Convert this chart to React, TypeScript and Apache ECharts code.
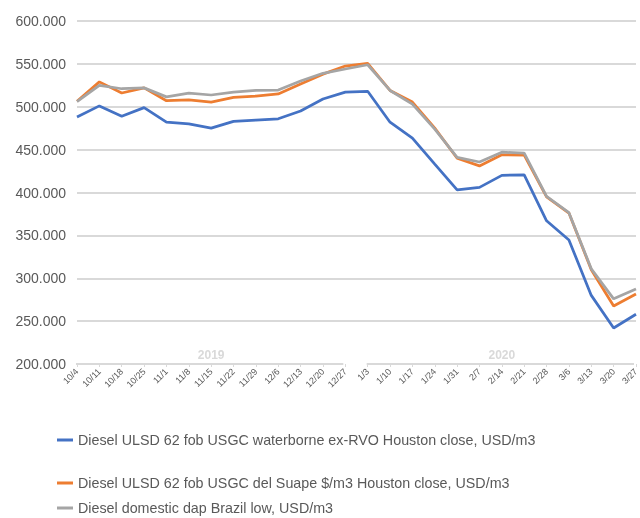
import React, { useEffect, useRef } from "react";
import * as echarts from "echarts";

const dates2019 = ["10/4", "10/11", "10/18", "10/25", "11/1", "11/8", "11/15", "11/22", "11/29", "12/6", "12/13", "12/20", "12/27"];
const dates2020 = ["1/3", "1/10", "1/17", "1/24", "1/31", "2/7", "2/14", "2/21", "2/28", "3/6", "3/13", "3/20", "3/27"];
const years = ["2019", "2020"];
const categories = [...dates2019, ...dates2020];

const nameWaterborne = "Diesel ULSD 62 fob USGC waterborne ex-RVO Houston close, USD/m3";
const nameSuape = "Diesel ULSD 62 fob USGC del Suape $/m3 Houston close, USD/m3";
const nameBrazil = "Diesel domestic dap Brazil low, USD/m3";

const waterborne = [488, 501, 489, 499, 482, 480, 475, 483, 484.5, 486, 495, 509, 517, 518, 482, 463.5, 433, 403, 406, 420, 420.5, 367, 344.6, 280, 242, 258];
const suape = [506.5, 529, 516, 522, 507, 508, 505.5, 511, 512.5, 515, 526.5, 538, 547.5, 550.5, 519, 505.5, 475, 440, 431, 444, 443.5, 395, 376, 310, 267.6, 281.6];
const brazil = [506, 525, 521, 522, 511.5, 516, 513.7, 517, 519, 519.5, 530, 539, 544, 549, 519, 503, 474, 441, 435.6, 447, 446, 395.5, 376.5, 311, 276, 287.5];

const yTicks = [200, 250, 300, 350, 400, 450, 500, 550, 600];

const groups = [
  [0, dates2019.length - 1, years[0]],
  [dates2019.length, dates2019.length + dates2020.length - 1, years[1]],
];

export default function App() {
  const ref = useRef<HTMLDivElement>(null);
  useEffect(() => {
    if (!ref.current) return;
    const chart = echarts.init(ref.current, null, { renderer: "svg" });
    const font = "'Liberation Sans', Arial, sans-serif";
    const legendBase = {
      left: 52,
      itemWidth: 16,
      itemHeight: 3,
      icon: "rect",
      itemGap: 6,
      textStyle: { color: "#595959", fontSize: 14.3, fontFamily: font },
      selectedMode: false,
    };
    chart.setOption({
      animation: false,
      grid: { left: 77, right: 4, top: 21, bottom: 154, containLabel: false, outerBoundsMode: "none" },
      legend: [
        { ...legendBase, top: 428, data: [nameWaterborne] },
        { ...legendBase, top: 471, data: [nameSuape] },
        { ...legendBase, top: 496, data: [nameBrazil] },
      ],
      xAxis: {
        type: "category",
        data: categories,
        boundaryGap: false,
        axisLine: { show: false },
        axisTick: { show: true, length: 3, lineStyle: { color: "#d9d9d9", width: 1 } },
        axisLabel: {
          interval: 0,
          rotate: 45,
          fontSize: 9,
          color: "#595959",
          fontFamily: font,
          margin: 6,
        },
      },
      yAxis: {
        type: "value",
        min: yTicks[0],
        max: yTicks[yTicks.length - 1],
        interval: yTicks[1] - yTicks[0],
        axisLine: { show: false },
        axisTick: { show: false },
        splitLine: { show: true, showMinLine: false, lineStyle: { color: "#d9d9d9", width: 2 } },
        axisLabel: {
          formatter: (v: number) => v.toFixed(3),
          fontSize: 14,
          color: "#595959",
          fontFamily: font,
          margin: 11,
        },
      },
      series: [
        {
          name: nameWaterborne,
          type: "line",
          data: waterborne,
          showSymbol: false,
          symbol: "none",
          lineStyle: { color: "#4472C4", width: 2.75 },
          itemStyle: { color: "#4472C4" },
        },
        {
          name: nameSuape,
          type: "line",
          data: suape,
          showSymbol: false,
          symbol: "none",
          lineStyle: { color: "#ED7D31", width: 2.75 },
          itemStyle: { color: "#ED7D31" },
        },
        {
          name: nameBrazil,
          type: "line",
          data: brazil,
          showSymbol: false,
          symbol: "none",
          lineStyle: { color: "#A5A5A5", width: 2.75 },
          itemStyle: { color: "#A5A5A5" },
        },
        {
          type: "custom",
          silent: true,
          z: 1,
          data: groups,
          renderItem: (params: any, api: any) => {
            const s = api.value(0);
            const e = api.value(1);
            const g = groups[params.dataIndex];
            const p1 = api.coord([s, yTicks[0]]);
            const p2 = api.coord([e, yTicks[0]]);
            return {
              type: "group",
              children: [
                {
                  type: "line",
                  shape: { x1: p1[0] - 1, y1: p1[1], x2: p2[0] - 2, y2: p2[1] },
                  style: { stroke: "#d9d9d9", lineWidth: 2 },
                },
                {
                  type: "text",
                  x: (p1[0] + p2[0]) / 2,
                  y: p1[1] - 9,
                  style: {
                    text: String(g[2]),
                    fill: "#d9d9d9",
                    fontSize: 12,
                    fontWeight: "bold",
                    fontFamily: font,
                    align: "center",
                    verticalAlign: "middle",
                  },
                },
              ],
            };
          },
        },
      ],
    });
    return () => chart.dispose();
  }, []);
  return <div ref={ref} style={{ position: "fixed", left: 0, top: 0, width: 640, height: 518 }} />;
}
